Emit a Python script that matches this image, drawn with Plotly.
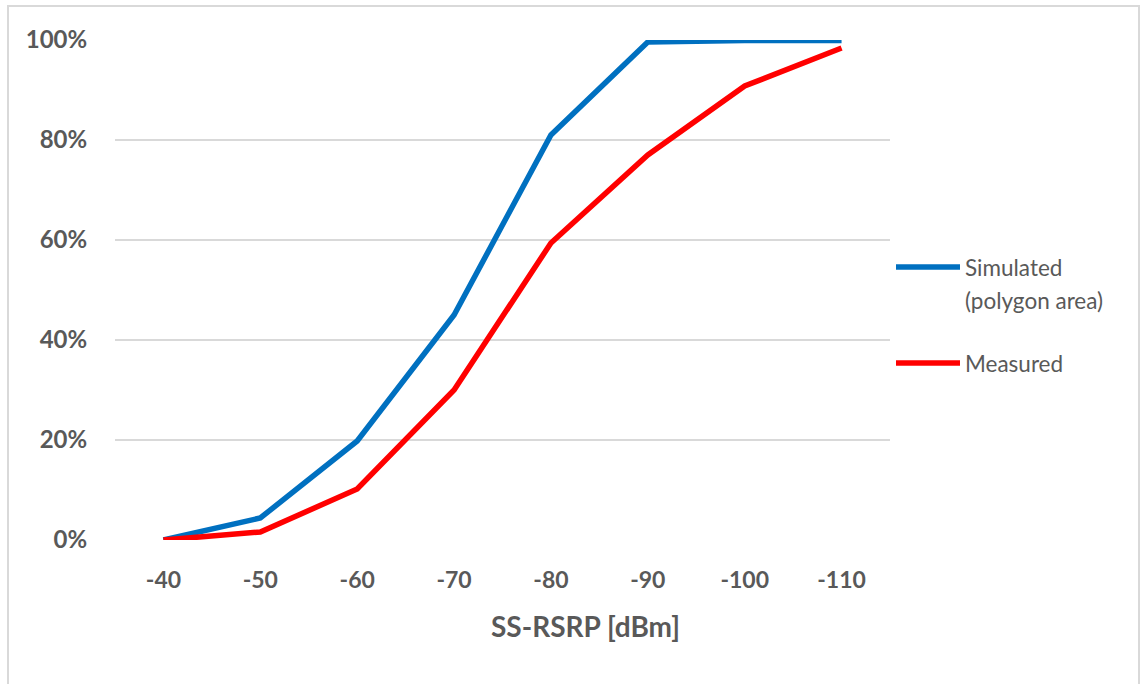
import plotly.graph_objects as go

categories = ["-40", "-50", "-60", "-70", "-80", "-90", "-100", "-110"]
simulated = [0.0, 0.044, 0.198, 0.45, 0.81, 0.996, 0.999, 0.999]
measured = [0.0, 0.016, 0.102, 0.30, 0.594, 0.77, 0.908, 0.984]
y_ticks = [0, 0.2, 0.4, 0.6, 0.8, 1.0]
y_tick_labels = ["0%", "20%", "40%", "60%", "80%", "100%"]
series_names = ["Simulated<br>(polygon area)", "Measured"]
x_title = "SS-RSRP [dBm]"
colors = ["#0070C0", "#FF0000"]

W, H = 1143, 684
L, R, T, B = 115, 890, 40, 540
pw, ph = R - L, B - T

def px_x(x):
    return (x - L) / pw

def px_y(y):
    return (B - y) / ph

FONT = "Lato"
GRAY = "#595959"

fig = go.Figure()
for name, vals, col in zip(series_names, [simulated, measured], colors):
    fig.add_trace(go.Scatter(x=categories, y=vals, mode="lines", name=name,
                             line=dict(color=col, width=5.5), showlegend=False))

fig.update_layout(
    width=W, height=H,
    margin=dict(l=L, r=W - R, t=T, b=H - B),
    paper_bgcolor="white", plot_bgcolor="white",
    font=dict(family=FONT, color=GRAY),
    xaxis=dict(type="category", range=[-0.5, 7.5], showgrid=False, zeroline=False,
               showline=False, ticks="outside", ticklen=19, tickcolor="rgba(0,0,0,0)",
               tickfont=dict(size=23, family=FONT, color=GRAY, weight="bold")),
    yaxis=dict(range=[0, 1.0], tickvals=y_ticks, ticktext=y_tick_labels, showgrid=True,
               gridcolor="#D9D9D9", gridwidth=2, zeroline=False, showline=False,
               ticks="outside", ticklen=22, tickcolor="rgba(0,0,0,0)",
               tickfont=dict(size=24, family=FONT, color=GRAY, weight="bold")),
    showlegend=False,
)

# axis title (positioned as in the reference)
fig.add_annotation(xref="paper", yref="paper", x=px_x(585), y=px_y(626),
                   xanchor="center", yanchor="middle", showarrow=False,
                   text="<b>" + x_title + "</b>",
                   font=dict(size=28, color=GRAY, family=FONT))

# outer chart border
fig.add_shape(type="rect", xref="paper", yref="paper",
              x0=px_x(8), x1=px_x(1139), y0=px_y(700), y1=px_y(6),
              line=dict(color="#D9D9D9", width=2), fillcolor="rgba(0,0,0,0)", layer="below")

# manual legend
legend_line_y = [267, 363]
for col, ly in zip(colors, legend_line_y):
    fig.add_shape(type="line", xref="paper", yref="paper",
                  x0=px_x(896), x1=px_x(960), y0=px_y(ly), y1=px_y(ly),
                  line=dict(color=col, width=5.5))
for name, ly in zip(series_names, legend_line_y):
    for i, part in enumerate(name.split("<br>")):
        fig.add_annotation(xref="paper", yref="paper", x=px_x(963), y=px_y(ly + i * 33),
                           xanchor="left", yanchor="middle", align="left", showarrow=False,
                           text=part, font=dict(size=22.5, color=GRAY, family=FONT))

fig.write_html("out.html")
